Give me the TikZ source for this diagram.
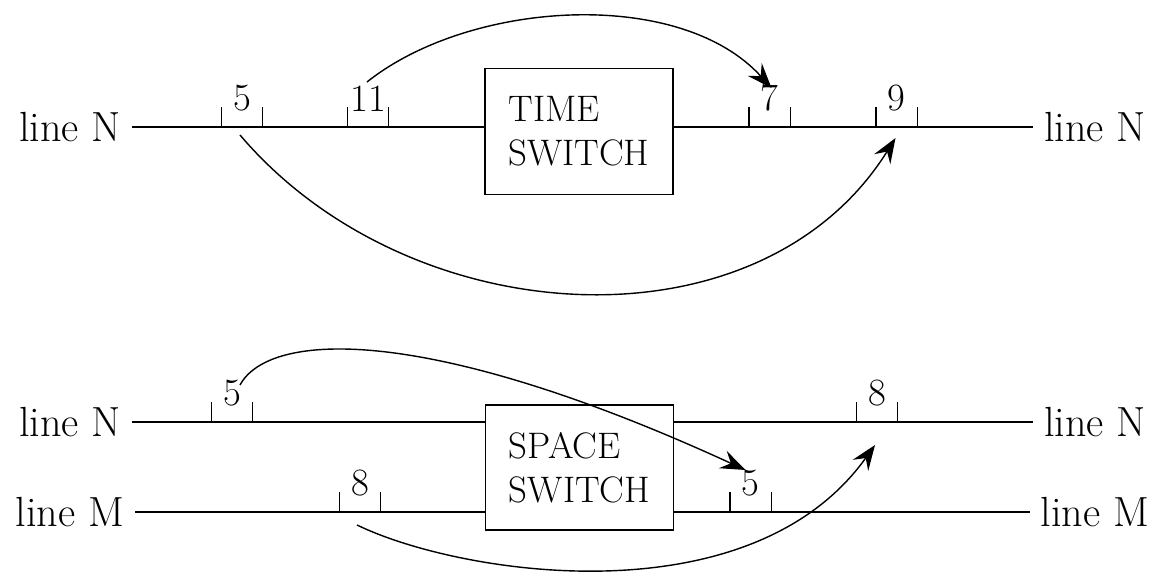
\documentclass[tikz,border=0pt]{standalone}
\usepackage{tikz}
\usetikzlibrary{arrows.meta,calc}

\begin{document}
\begin{tikzpicture}[x=0.02cm, y=0.02cm, line width=0.8pt]
\tikzstyle{lbl} = [inner sep=6pt, font=\fontsize{24}{28}\selectfont]
\tikzstyle{switch} = [rectangle, draw, line width=1pt, minimum width=3.76cm, minimum height=2.52cm, align=left, font=\fontsize{21}{25}\selectfont]
\tikzstyle{slot} = [inner sep=0pt, minimum width=0.8cm, anchor=south, font=\fontsize{22}{24}\selectfont]
\tikzstyle{arrow} = [-{Stealth[length=0.5cm, width=0.38cm, inset=0.18cm]}, line width=0.8pt]
\useasboundingbox (0,0) rectangle (1169,575);

% time switch
\node (tl) [lbl] at (70,448) {line N};
\node (tr) [lbl] at (1095,448) {line N};
\node (time) [switch] at (579,443.5) {TIME\\SWITCH};
\draw (tl.east)--(tl.east-|time.west); \draw (tr.west)--(tr.west-|time.east);

% space switch
\node (nl) [lbl] at (70,153) {line N};
\node (nr) [lbl] at (1095,153) {line N};
\node (ml) [lbl] at (70,63) {line M};
\node (mr) [lbl] at (1095,63) {line M};
\node (space) [switch, minimum height=2.5cm] at (579.5,107.5) {SPACE\\SWITCH};
\draw (nl.east)--(nl.east-|space.west); \draw (nr.west)--(nr.west-|space.east);
\draw (ml.east)--(ml.east-|space.west); \draw (mr.west)--(mr.west-|space.east);

% time slots
\foreach \n/\px/\py/\t in {ta/242/448/5, tb/368/448/11, tc/769.5/448/7, td/896.5/448/9,
  sa/232/153/5, sb/877/153/8, sc/360/63/8, sd/750.5/63/5}{
  \node (\n) [slot] at (\px,\py+15) {\t};
  \draw ($(\n.south west)+(0,-15)$)--++(0,20);
  \draw ($(\n.south east)+(0,-15)$)--++(0,20);
}

\coordinate (a1) at ($(tb.south)+(-1,30)$);
\coordinate (b1) at ($(tc.south)+(2,24)$);
\coordinate (a2) at ($(ta.south)+(-2,-23)$);
\coordinate (b2) at ($(td.south)+(-1,-26)$);
\coordinate (a3) at ($(sa.south)+(8,22)$);
\coordinate (b3) at ($(sd.south)+(-5,27)$);
\coordinate (a4) at ($(sc.south)+(-3,-28)$);
\coordinate (b4) at ($(sb.south)+(-2,-38)$);

\draw[arrow] (a1) .. controls (470,575) and (680,588) .. (b1);
\draw[arrow] (a2) .. controls (410,240) and (760,220) .. (b2);
\draw[arrow] (a3) .. controls (270,245) and (430,250) .. (b3);
\draw[arrow] (a4) .. controls (460,0) and (750,-45) .. (b4);
\end{tikzpicture}
\end{document}
